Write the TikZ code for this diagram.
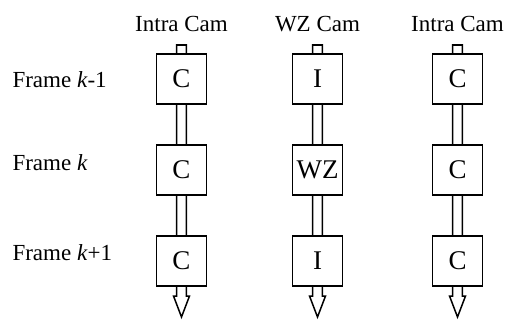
\documentclass[tikz,border=0pt]{standalone}
\usepackage{fontspec}
\setmainfont{Liberation Serif}

\begin{document}
\begin{tikzpicture}[x=1pt, y=-1pt,
cell/.style={draw, line width=1.5pt, fill=white, minimum size=50pt, inner sep=0pt, font=\fontsize{27}{27}\selectfont},
head/.style={font=\fontsize{23}{23}\selectfont, anchor=base},
row/.style={font=\fontsize{23}{23}\selectfont, anchor=base west},
pipe/.style={draw, line width=1.5pt, fill=white, line join=miter}]
\useasboundingbox (0,0) rectangle (510,321);
\node[row] (f1) at (9,87) {Frame \textit{k}-1};
\node[row] (f2) at (9,170) {Frame \textit{k}};
\node[row] (f3) at (9,260) {Frame \textit{k}+1};
\foreach \n/\x/\t/\a/\b/\c in {A/181.5/Intra Cam/C/C/C, B/317.5/WZ Cam/I/WZ/I, D/457.5/Intra Cam/C/C/C} {
  \node[head] (\n) at (\x,31) {\t};
  \coordinate (\n in) at (\x,45);
  \coordinate (\n out) at (\x,317);
  \draw[pipe] ([xshift=-4.8pt]\n in) -- ([xshift=4.8pt]\n in) -- ([xshift=4.8pt,yshift=21pt]\n out)
    -- ([xshift=8pt,yshift=21pt]\n out) -- (\n out) -- ([xshift=-8pt,yshift=21pt]\n out)
    -- ([xshift=-4.8pt,yshift=21pt]\n out) -- cycle;
  \node[cell] (\n1) at (\x,79) {\a};
  \node[cell] (\n2) at (\x,170) {\b};
  \node[cell] (\n3) at (\x,261) {\c};
}
\end{tikzpicture}
\end{document}
